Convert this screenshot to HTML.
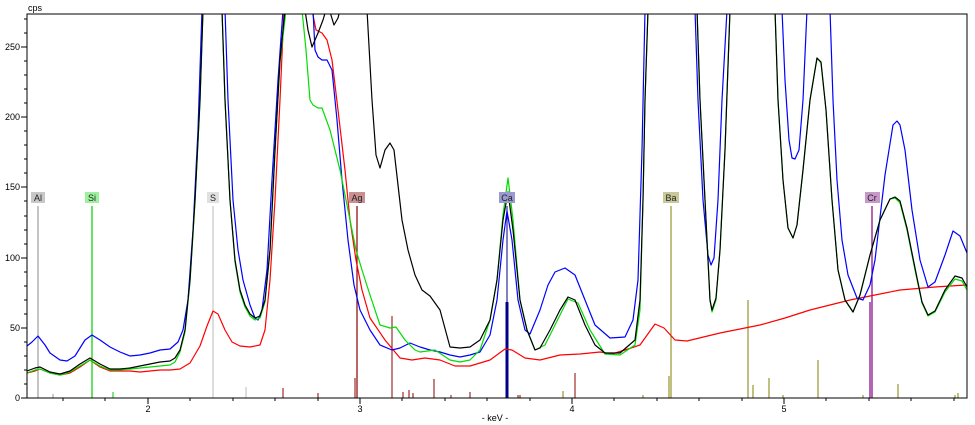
<!DOCTYPE html>
<html><head><meta charset="utf-8"><style>
html,body{margin:0;padding:0;background:#fff;}
svg{display:block;font-family:"Liberation Sans",sans-serif;}
</style></head><body>
<svg width="975" height="425" viewBox="0 0 975 425">
<rect width="975" height="425" fill="#fff"/>
<defs><clipPath id="c"><rect x="27" y="14" width="940" height="384"/></clipPath></defs>
<g clip-path="url(#c)" fill="none" stroke-width="1.2" stroke-linejoin="round">
<g stroke-width="1">
<line x1="283" y1="388" x2="283" y2="398" stroke="#8b0000"/>
<line x1="318" y1="393" x2="318" y2="398" stroke="#8b0000"/>
<line x1="355" y1="378" x2="355" y2="398" stroke="#8b0000"/>
<line x1="392" y1="316" x2="392" y2="398" stroke="#8b0000"/>
<line x1="403" y1="392" x2="403" y2="398" stroke="#8b0000"/>
<line x1="409" y1="390" x2="409" y2="398" stroke="#8b0000"/>
<line x1="413" y1="393" x2="413" y2="398" stroke="#8b0000"/>
<line x1="434" y1="379" x2="434" y2="398" stroke="#8b0000"/>
<line x1="451" y1="395" x2="451" y2="398" stroke="#8b0000"/>
<line x1="470" y1="392" x2="470" y2="398" stroke="#8b0000"/>
<line x1="518" y1="395" x2="518" y2="398" stroke="#8b0000"/>
<line x1="520" y1="395" x2="520" y2="398" stroke="#8b0000"/>
<line x1="53" y1="394" x2="53" y2="398" stroke="#999"/>
<line x1="113" y1="392" x2="113" y2="398" stroke="#0c0"/>
<line x1="246" y1="387" x2="246" y2="398" stroke="#bbb"/>
<line x1="575" y1="373" x2="575" y2="398" stroke="#8b0000"/>
<line x1="563" y1="391" x2="563" y2="398" stroke="#808000"/>
<line x1="643" y1="395" x2="643" y2="398" stroke="#808000"/>
<line x1="669" y1="376" x2="669" y2="398" stroke="#808000"/>
<line x1="748" y1="300" x2="748" y2="398" stroke="#808000"/>
<line x1="753" y1="385" x2="753" y2="398" stroke="#808000"/>
<line x1="769" y1="378" x2="769" y2="398" stroke="#808000"/>
<line x1="783" y1="395" x2="783" y2="398" stroke="#808000"/>
<line x1="818" y1="360" x2="818" y2="398" stroke="#808000"/>
<line x1="863" y1="395" x2="863" y2="398" stroke="#808000"/>
<line x1="870" y1="302" x2="870" y2="398" stroke="#800080" stroke-width="1.2"/>
<line x1="898" y1="384" x2="898" y2="398" stroke="#808000"/>
<line x1="955" y1="395" x2="955" y2="398" stroke="#808000"/>
<line x1="958" y1="393" x2="958" y2="398" stroke="#808000"/>
<line x1="507" y1="302" x2="507" y2="398" stroke="#00008b" stroke-width="3"/>
</g>
<line x1="38" y1="206" x2="38" y2="398" stroke="#888" stroke-width="1"/>
<line x1="92" y1="206" x2="92" y2="398" stroke="#0c0" stroke-width="1.2"/>
<line x1="213" y1="206" x2="213" y2="398" stroke="#bbb" stroke-width="1"/>
<line x1="357" y1="206" x2="357" y2="398" stroke="#8b0000" stroke-width="1.2"/>
<line x1="507" y1="206" x2="507" y2="398" stroke="#00008b" stroke-width="1"/>
<line x1="671" y1="206" x2="671" y2="398" stroke="#808000" stroke-width="1"/>
<line x1="872" y1="206" x2="872" y2="398" stroke="#800080" stroke-width="1.2"/>
<polyline stroke="#f00" points="27,373 35,371 40,369 50,373 60,375 70,373 80,367 90,360 100,367 110,371 120,371 130,371 140,372 150,371 160,370 170,370 180,369 190,363 200,346 207,326 213,311 218,314 225,330 232,342 240,346 250,347 260,345 265,330 270,280 275,200 280,100 284,10 312,10 316,30 322,33 327,40 332,60 338,110 345,170 350,220 356,260 362,290 370,318 385,340 400,358 412,360 425,358 440,360 455,366 470,366 490,360 505,349 512,350 525,358 540,360 560,355 580,354 600,352 612,354 628,349 640,345 655,324 664,328 675,340 687,341 720,333 760,325 785,318 810,310 830,305 850,300 870,296 900,290 935,287 950,286 967,285"/>
<polyline stroke="#00f" points="27,346 32,342 38,336 45,345 50,353 60,360 67,361 75,356 85,340 92,335 100,340 110,347 120,352 130,356 140,355 150,353 160,350 170,349 178,342 183,330 188,300 193,230 198,130 202,10 225,10 228,100 233,200 238,250 243,280 250,305 255,318 258,320 262,310 267,270 272,180 278,80 283,10 313,10 315,50 318,57 322,60 327,60 332,70 337,120 342,180 348,240 354,285 360,310 370,330 380,345 392,350 400,348 410,343 420,347 430,350 440,352 450,355 460,357 470,355 480,352 490,335 497,300 503,240 507,211 512,240 518,300 525,330 530,334 540,310 548,285 555,272 565,268 575,275 585,300 595,325 610,338 625,337 633,320 638,280 642,150 645,10 695,10 698,100 703,200 708,255 711,265 714,258 718,200 722,100 727,10 782,10 785,80 789,140 792,158 795,159 799,150 803,100 807,10 830,10 833,100 837,180 842,240 848,275 857,298 863,300 870,285 875,260 885,175 893,125 897,121 900,125 905,150 912,210 920,260 928,287 935,282 945,255 953,231 960,236 967,253"/>
<polyline stroke="#0d0" points="27,373 35,370 40,369 50,373 60,375 70,372 80,366 90,360 100,366 110,370 120,370 130,369 140,368 150,367 160,366 170,365 175,362 180,352 185,332 190,282 195,202 200,102 203,10 222,10 225,100 230,200 235,262 240,292 245,307 250,316 255,320 260,318 265,302 270,252 275,152 280,62 286,10 302,10 306,50 310,100 313,105 318,108 322,108 330,130 340,170 350,220 356,250 362,270 370,295 380,325 390,328 396,327 405,340 415,350 420,352 435,350 450,360 460,362 470,360 480,350 490,320 497,280 503,215 508,178 513,220 520,300 527,330 535,350 545,345 555,325 568,299 578,303 590,330 605,354 620,355 635,345 640,310 643,200 645,100 648,10 697,10 700,100 705,200 710,300 712,312 716,300 720,250 725,150 730,10 775,10 778,100 783,180 788,228 793,238 797,225 803,170 810,100 817,58 821,63 826,110 832,200 838,270 845,300 853,312 860,295 870,255 880,220 890,199 895,198 900,203 907,230 915,270 922,303 928,316 935,312 945,292 955,279 962,281 967,290"/>
<polyline stroke="#000" points="27,371 35,368 40,367 50,372 60,374 70,371 80,364 90,358 100,364 110,369 120,369 130,368 140,366 150,364 160,362 170,361 175,358 180,350 185,330 190,280 195,200 200,100 203,10 222,10 225,100 230,200 235,260 240,290 245,305 250,314 255,318 260,316 265,300 270,250 275,150 280,60 285,10 305,10 308,30 312,47 318,33 323,20 326,10 330,12 334,25 338,18 340,10 367,10 372,100 376,155 380,168 385,150 390,143 394,150 398,185 402,220 408,250 415,275 422,290 430,296 440,310 450,347 460,348 470,347 480,340 490,320 497,280 503,220 508,192 513,230 520,300 527,330 535,350 540,348 550,330 560,310 568,297 575,300 585,325 595,345 605,353 620,353 635,340 640,300 643,200 645,100 648,10 697,10 700,100 705,200 710,300 712,310 716,298 720,250 725,150 730,10 775,10 778,100 783,180 788,228 793,238 797,225 803,170 810,100 817,58 821,62 826,110 832,200 838,270 845,300 853,312 860,295 870,255 880,220 890,199 895,197 900,201 907,228 915,268 922,302 928,315 935,311 945,290 955,276 962,278 967,287"/>
</g>
<g font-size="9" text-anchor="middle">
<rect x="31" y="192" width="14" height="11" fill="#c8c8c8"/><text x="38" y="201" fill="#222">Al</text>
<rect x="85" y="192" width="14" height="11" fill="#9ef09e"/><text x="92" y="201" fill="#222">Si</text>
<rect x="207" y="192" width="12" height="11" fill="#e0e0e0"/><text x="213" y="201" fill="#222">S</text>
<rect x="349" y="192" width="16" height="11" fill="#c89090"/><text x="357" y="201" fill="#222">Ag</text>
<rect x="499" y="192" width="16" height="11" fill="#9a9ad0"/><text x="507" y="201" fill="#222">Ca</text>
<rect x="663" y="192" width="16" height="11" fill="#c8c89a"/><text x="671" y="201" fill="#222">Ba</text>
<rect x="865" y="192" width="15" height="11" fill="#c898c8"/><text x="872" y="201" fill="#222">Cr</text>
</g>
<rect x="27" y="14" width="940" height="384" fill="none" stroke="#000" stroke-width="1"/>
<g stroke="#000" stroke-width="1">
<line x1="21" y1="398" x2="27" y2="398"/><line x1="21" y1="328" x2="27" y2="328"/><line x1="21" y1="258" x2="27" y2="258"/><line x1="21" y1="187" x2="27" y2="187"/><line x1="21" y1="117" x2="27" y2="117"/><line x1="21" y1="47" x2="27" y2="47"/>
<line x1="24" y1="384" x2="27" y2="384"/><line x1="24" y1="370" x2="27" y2="370"/><line x1="24" y1="356" x2="27" y2="356"/><line x1="24" y1="342" x2="27" y2="342"/>
<line x1="24" y1="314" x2="27" y2="314"/><line x1="24" y1="300" x2="27" y2="300"/><line x1="24" y1="286" x2="27" y2="286"/><line x1="24" y1="272" x2="27" y2="272"/>
<line x1="24" y1="244" x2="27" y2="244"/><line x1="24" y1="230" x2="27" y2="230"/><line x1="24" y1="216" x2="27" y2="216"/><line x1="24" y1="201" x2="27" y2="201"/>
<line x1="24" y1="173" x2="27" y2="173"/><line x1="24" y1="159" x2="27" y2="159"/><line x1="24" y1="145" x2="27" y2="145"/><line x1="24" y1="131" x2="27" y2="131"/>
<line x1="24" y1="103" x2="27" y2="103"/><line x1="24" y1="89" x2="27" y2="89"/><line x1="24" y1="75" x2="27" y2="75"/><line x1="24" y1="61" x2="27" y2="61"/>
<line x1="24" y1="33" x2="27" y2="33"/><line x1="24" y1="19" x2="27" y2="19"/>
<line x1="148" y1="398" x2="148" y2="404"/><line x1="360" y1="398" x2="360" y2="404"/><line x1="572" y1="398" x2="572" y2="404"/><line x1="784" y1="398" x2="784" y2="404"/>
<line x1="63" y1="398" x2="63" y2="401"/><line x1="105" y1="398" x2="105" y2="401"/><line x1="190" y1="398" x2="190" y2="401"/><line x1="233" y1="398" x2="233" y2="401"/><line x1="275" y1="398" x2="275" y2="401"/><line x1="318" y1="398" x2="318" y2="401"/><line x1="402" y1="398" x2="402" y2="401"/><line x1="445" y1="398" x2="445" y2="401"/><line x1="487" y1="398" x2="487" y2="401"/><line x1="530" y1="398" x2="530" y2="401"/><line x1="614" y1="398" x2="614" y2="401"/><line x1="657" y1="398" x2="657" y2="401"/><line x1="699" y1="398" x2="699" y2="401"/><line x1="742" y1="398" x2="742" y2="401"/><line x1="826" y1="398" x2="826" y2="401"/><line x1="869" y1="398" x2="869" y2="401"/><line x1="911" y1="398" x2="911" y2="401"/><line x1="954" y1="398" x2="954" y2="401"/>
</g>
<g font-size="9" fill="#000">
<g text-anchor="end"><text x="20" y="401">0</text><text x="20" y="331">50</text><text x="20" y="261">100</text><text x="20" y="190">150</text><text x="20" y="120">200</text><text x="20" y="50">250</text></g>
<text x="28" y="11">cps</text>
<g text-anchor="middle"><text x="148" y="412">2</text><text x="360" y="412">3</text><text x="572" y="412">4</text><text x="784" y="412">5</text><text x="495" y="421">- keV -</text></g>
</g>
</svg>
</body></html>
